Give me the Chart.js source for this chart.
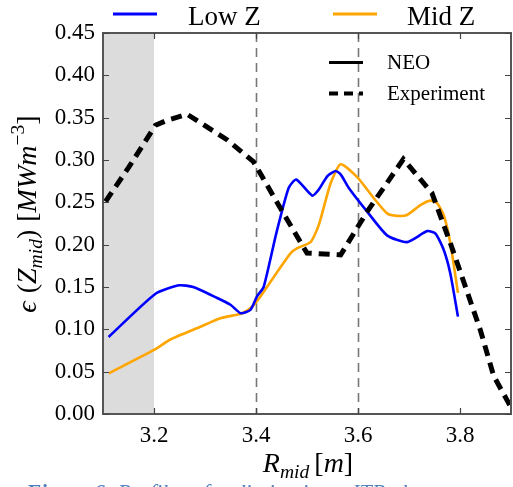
<!DOCTYPE html>
<html>
<head>
<meta charset="utf-8">
<script src="https://cdn.jsdelivr.net/npm/chart.js@4/dist/chart.umd.min.js"></script>
<style>
html,body{margin:0;padding:0;background:#fff;overflow:hidden;}
#wrap{width:513px;height:487px;position:relative;}
</style>
</head>
<body>
<div id="wrap"><canvas id="c" width="513" height="487"></canvas></div>
<script>
// ---- data ----
const seriesNames = ["Low Z", "Mid Z"];
const lowZ_R   = [3.111,3.203,3.249,3.277,3.324,3.350,3.370,3.389,3.402,3.415,3.440,3.464,3.479,3.510,3.523,3.540,3.556,3.566,3.582,3.618,3.657,3.696,3.736,3.752,3.768,3.781,3.796];
const lowZ_eps = [0.091,0.142,0.152,0.150,0.137,0.129,0.119,0.123,0.139,0.150,0.214,0.267,0.277,0.258,0.265,0.281,0.287,0.283,0.267,0.239,0.211,0.203,0.216,0.213,0.194,0.166,0.115];
const midZ_R   = [3.111,3.201,3.232,3.291,3.330,3.360,3.373,3.393,3.409,3.442,3.468,3.481,3.507,3.523,3.546,3.566,3.598,3.631,3.657,3.677,3.696,3.723,3.742,3.755,3.768,3.781,3.796];
const midZ_eps = [0.048,0.076,0.088,0.103,0.113,0.117,0.119,0.127,0.139,0.168,0.190,0.196,0.203,0.223,0.272,0.295,0.280,0.255,0.237,0.234,0.235,0.247,0.252,0.249,0.235,0.202,0.143];
const exp_R    = [3.105,3.150,3.203,3.226,3.265,3.343,3.395,3.448,3.500,3.566,3.618,3.689,3.745,3.781,3.840,3.866,3.899];
const exp_eps  = [0.251,0.291,0.341,0.347,0.354,0.324,0.298,0.243,0.190,0.188,0.239,0.301,0.261,0.202,0.099,0.045,0.009];
const xTicks = [3.2, 3.4, 3.6, 3.8];
const yTicks = [0.00,0.05,0.10,0.15,0.20,0.25,0.30,0.35,0.40,0.45];
const xRange = [3.1, 3.9];
const yRange = [0, 0.45];
const shadeRange = [3.1, 3.2];
const vLines = [3.4, 3.6];

const pts = (xs, ys) => xs.map((x, i) => ({x: x, y: ys[i]}));
const SERIF = '"Liberation Serif", "DejaVu Serif", serif';

function drawRich(ctx, parts, size) {
  let x = 0;
  for (const p of parts) {
    const s = p.sub || p.sup ? size * 0.7 : size;
    ctx.font = (p.it ? 'italic ' : '') + s + 'px ' + SERIF;
    const dy = p.sub ? size * 0.22 : (p.sup ? -size * 0.42 : 0);
    ctx.fillText(p.t, x, dy);
    x += ctx.measureText(p.t).width + (p.gap || 0);
  }
  return x;
}
function richWidth(ctx, parts, size) {
  let x = 0;
  for (const p of parts) {
    const s = p.sub || p.sup ? size * 0.7 : size;
    ctx.font = (p.it ? 'italic ' : '') + s + 'px ' + SERIF;
    x += ctx.measureText(p.t).width + (p.gap || 0);
  }
  return x;
}

const decor = {
  id: 'decor',
  beforeDatasetsDraw(chart) {
    const ctx = chart.ctx, a = chart.chartArea, xs = chart.scales.x;
    ctx.save();
    ctx.fillStyle = '#dcdcdc';
    const x0 = xs.getPixelForValue(shadeRange[0]), x1 = xs.getPixelForValue(shadeRange[1]);
    ctx.fillRect(x0, a.top, x1 - x0, a.bottom - a.top);
    ctx.strokeStyle = '#777';
    ctx.lineWidth = 1.6;
    ctx.setLineDash([9, 6]);
    for (const v of vLines) {
      const px = Math.round(xs.getPixelForValue(v)) + 0.5;
      ctx.beginPath(); ctx.moveTo(px, a.top); ctx.lineTo(px, a.bottom); ctx.stroke();
    }
    ctx.restore();
  },
  afterDraw(chart) {
    const ctx = chart.ctx, a = chart.chartArea, xs = chart.scales.x, ys = chart.scales.y;
    ctx.save();
    // spines
    ctx.strokeStyle = '#555';
    ctx.lineWidth = 2;
    ctx.setLineDash([]);
    ctx.strokeRect(a.left, a.top, a.right - a.left, a.bottom - a.top);
    // inward ticks
    ctx.lineWidth = 1.2;
    ctx.strokeStyle = '#444';
    const tl = 6;
    for (const v of xTicks) {
      const px = Math.round(xs.getPixelForValue(v)) + 0.5;
      ctx.beginPath(); ctx.moveTo(px, a.bottom); ctx.lineTo(px, a.bottom - tl);
      ctx.moveTo(px, a.top); ctx.lineTo(px, a.top + tl); ctx.stroke();
    }
    for (const v of yTicks) {
      const py = Math.round(ys.getPixelForValue(v)) + 0.5;
      ctx.beginPath(); ctx.moveTo(a.left, py); ctx.lineTo(a.left + tl, py);
      ctx.moveTo(a.right, py); ctx.lineTo(a.right - tl, py); ctx.stroke();
    }
    // top legend
    ctx.lineWidth = 3;
    ctx.strokeStyle = '#0000ff';
    ctx.beginPath(); ctx.moveTo(113, 14); ctx.lineTo(157, 14); ctx.stroke();
    ctx.strokeStyle = '#ffa500';
    ctx.beginPath(); ctx.moveTo(333, 14); ctx.lineTo(377, 14); ctx.stroke();
    ctx.fillStyle = '#000';
    ctx.font = '27px ' + SERIF;
    ctx.textBaseline = 'alphabetic';
    ctx.textAlign = 'left';
    ctx.fillText(seriesNames[0], 188, 25);
    ctx.fillText(seriesNames[1], 407, 25);
    // inner legend
    ctx.lineWidth = 3;
    ctx.strokeStyle = '#000';
    ctx.beginPath(); ctx.moveTo(329, 62.5); ctx.lineTo(363, 62.5); ctx.stroke();
    ctx.lineWidth = 4;
    ctx.setLineDash([9, 6]);
    ctx.beginPath(); ctx.moveTo(329, 93.5); ctx.lineTo(363, 93.5); ctx.stroke();
    ctx.setLineDash([]);
    ctx.font = '21px ' + SERIF;
    ctx.textBaseline = 'middle';
    ctx.fillText('NEO', 387, 63);
    ctx.fillText('Experiment', 387, 94);
    // x label
    ctx.textBaseline = 'alphabetic';
    const xl = [{t:'R', it:true}, {t:'mid', it:true, sub:true, gap:5}, {t:'['}, {t:'m', it:true}, {t:']'}];
    const xw = richWidth(ctx, xl, 28);
    ctx.save(); ctx.translate(308 - xw / 2, 472); drawRich(ctx, xl, 28); ctx.restore();
    // y label
    const yl = [{t:'\u03F5', it:true, gap:8}, {t:'('}, {t:'Z', it:true}, {t:'mid', it:true, sub:true}, {t:')', gap:8}, {t:'['}, {t:'MWm', it:true}, {t:'\u22123', sup:true}, {t:']'}];
    const yw = richWidth(ctx, yl, 28);
    ctx.save(); ctx.translate(36, 214); ctx.rotate(-Math.PI / 2); ctx.translate(-yw / 2, 0); drawRich(ctx, yl, 28); ctx.restore();
    // caption (cut off by the bottom edge)
    ctx.fillStyle = '#4f81bd';
    ctx.font = 'italic bold 22px ' + SERIF;
    ctx.fillText('Figure 6:', 26, 499);
    const fw = ctx.measureText('Figure 6: ').width;
    ctx.font = 'italic 22px ' + SERIF;
    ctx.fillText('Profiles of radiation in an ITB phase at', 26 + fw, 499);
    ctx.restore();
  }
};

new Chart(document.getElementById('c'), {
  type: 'line',
  data: {
    datasets: [
      {label: 'Experiment', data: pts(exp_R, exp_eps), borderColor: '#000', borderWidth: 5, borderDash: [11, 7], pointRadius: 0, tension: 0, fill: false},
      {label: seriesNames[0], data: pts(lowZ_R, lowZ_eps), borderColor: '#0000ff', borderWidth: 2.6, pointRadius: 0, tension: 0.2, fill: false},
      {label: seriesNames[1], data: pts(midZ_R, midZ_eps), borderColor: '#ffa500', borderWidth: 2.6, pointRadius: 0, tension: 0.2, fill: false}
    ]
  },
  options: {
    responsive: false,
    animation: false,
    devicePixelRatio: 1,
    layout: {padding: {left: 0, right: 2, top: 33, bottom: 0}},
    plugins: {legend: {display: false}, tooltip: {enabled: false}},
    scales: {
      x: {
        type: 'linear', min: xRange[0], max: xRange[1],
        grid: {display: false, drawTicks: false}, border: {display: false},
        afterBuildTicks: s => { s.ticks = xTicks.map(v => ({value: v})); },
        afterFit: s => { s.height = 73; },
        ticks: {padding: 8, color: '#000', font: {family: SERIF, size: 23}, callback: v => v.toFixed(1), maxRotation: 0}
      },
      y: {
        type: 'linear', min: yRange[0], max: yRange[1],
        grid: {display: false, drawTicks: false}, border: {display: false},
        afterBuildTicks: s => { s.ticks = yTicks.map(v => ({value: v})); },
        afterFit: s => { s.width = 103; },
        ticks: {padding: 8, color: '#000', font: {family: SERIF, size: 23}, callback: v => v.toFixed(2)}
      }
    }
  },
  plugins: [decor]
});
</script>
</body>
</html>
